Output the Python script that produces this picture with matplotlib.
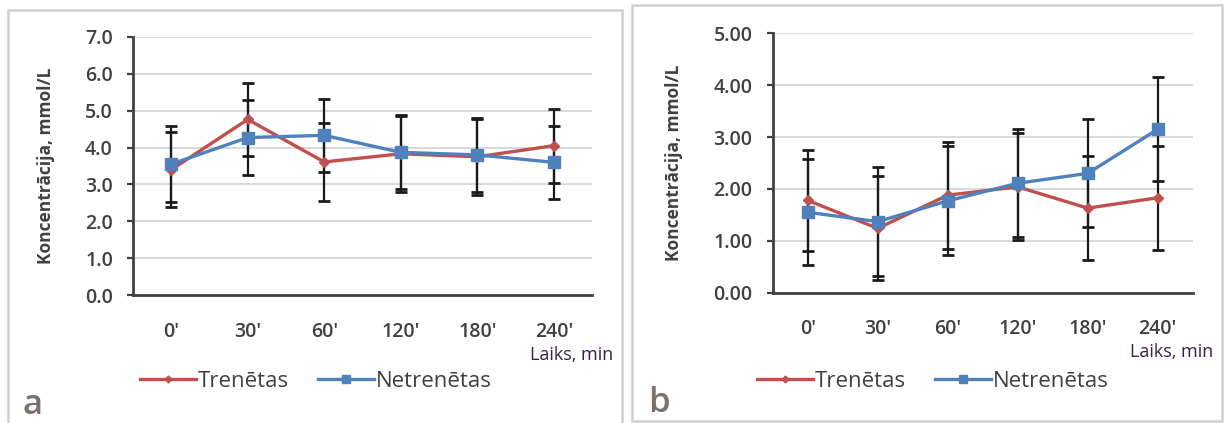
import matplotlib.pyplot as plt
import matplotlib.ticker as mticker
from matplotlib.patches import Rectangle
import numpy as np

# data
labels = ["0'", "30'", "60'", "120'", "180'", "240'"]

a_tren = [3.40, 4.76, 3.61, 3.83, 3.75, 4.05]
a_tren_err = [1.02, 1.00, 1.05, 1.03, 1.03, 1.00]
a_netr = [3.55, 4.27, 4.33, 3.87, 3.80, 3.60]
a_netr_err = [1.03, 1.02, 0.98, 1.00, 1.00, 0.98]

b_tren = [1.78, 1.24, 1.88, 2.04, 1.63, 1.83]
b_tren_err = [0.98, 1.00, 1.03, 1.03, 1.00, 1.00]
b_netr = [1.55, 1.37, 1.77, 2.11, 2.30, 3.15]
b_netr_err = [1.02, 1.05, 1.05, 1.04, 1.04, 1.00]

RED = '#C0504D'
BLUE = '#4F81BD'
TXT = '#404040'

plt.rcParams['font.family'] = ['Open Sans', 'DejaVu Sans']

W, H = 1224, 423
fig = plt.figure(figsize=(W / 100, H / 100), dpi=100)


def px_axes(x0, x1, y0, y1):
    # pixel box (top-left origin) -> figure fraction
    return fig.add_axes([x0 / W, 1 - y1 / H, (x1 - x0) / W, (y1 - y0) / H])


def draw_panel(ax, tren, tren_err, netr, netr_err, ymax, fmt, ylab_x, letter, box, leg_xy, laiks_xy, letter_xy):
    x = np.arange(len(labels))
    for vals, errs in ((tren, tren_err), (netr, netr_err)):
        ax.errorbar(x, vals, yerr=errs, fmt='none', ecolor='#1a1a1a', elinewidth=1.6,
                    capsize=4.5, capthick=2.0, zorder=2)
    ax.plot(x, tren, color=RED, lw=2.4, marker='D', ms=5, label='Trenētas', zorder=3)
    ax.plot(x, netr, color=BLUE, lw=2.4, marker='s', ms=8, label='Netrenētas', zorder=4)

    ax.set_xlim(-0.5, len(labels) - 0.5)
    ax.set_ylim(0, ymax)
    ax.set_xticks(x)
    ax.set_xticklabels(labels)
    ax.yaxis.set_major_locator(mticker.MultipleLocator(1))
    ax.yaxis.set_major_formatter(mticker.FormatStrFormatter(fmt))
    ax.grid(axis='y', color='#d9d9d9', lw=1.4, zorder=0)
    ax.set_axisbelow(True)
    for s in ('top', 'right'):
        ax.spines[s].set_visible(False)
    for s in ('left', 'bottom'):
        ax.spines[s].set_color(TXT)
        ax.spines[s].set_linewidth(2.0)
    ax.tick_params(axis='y', direction='out', length=4.5, width=1.6, color=TXT,
                   labelsize=14, labelcolor=TXT, pad=10)
    ax.tick_params(axis='x', length=0, labelsize=14, labelcolor=TXT, pad=19)
    for t in ax.get_yticklabels() + ax.get_xticklabels():
        t.set_fontweight('semibold')
    ax.set_ylabel('Koncentrācija, mmol/L', fontsize=12.5, fontweight='bold', color=TXT)
    ax.yaxis.set_label_coords(ylab_x, 0.5)

    fig.add_artist(Rectangle((box[0] / W, 1 - box[3] / H), (box[1] - box[0]) / W,
                             (box[3] - box[2]) / H, transform=fig.transFigure,
                             fill=False, ec='#d0d0d0', lw=1.8))
    leg = ax.legend(loc='center', bbox_to_anchor=(leg_xy[0] / W, 1 - leg_xy[1] / H),
                    bbox_transform=fig.transFigure, ncol=2, frameon=False, markerscale=0.7,
                    fontsize=16, handlelength=2.5, handletextpad=0.1, columnspacing=1.3)
    for t in leg.get_texts():
        t.set_color(TXT)
    fig.text(laiks_xy[0] / W, 1 - laiks_xy[1] / H, 'Laiks, min', ha='right', va='center',
             fontsize=13, color='#3b1f4a')
    fig.text(letter_xy[0] / W, 1 - letter_xy[1] / H, letter, ha='left', va='center',
             fontsize=25, fontweight='semibold', color='#7a716c')


ax_a = px_axes(133, 592, 36.7, 295.3)
draw_panel(ax_a, a_tren, a_tren_err, a_netr, a_netr_err, 7, '%.1f', -0.17, 'a',
           (8, 622, 10, 425), (316, 381), (613, 355), (22, 405))

ax_b = px_axes(772.7, 1192.7, 33.3, 292.7)
draw_panel(ax_b, b_tren, b_tren_err, b_netr, b_netr_err, 5, '%.2f', -0.2136, 'b',
           (632, 1222, 5, 421), (933, 381), (1213, 352), (648, 403))

fig.savefig('out.png', dpi=100)
